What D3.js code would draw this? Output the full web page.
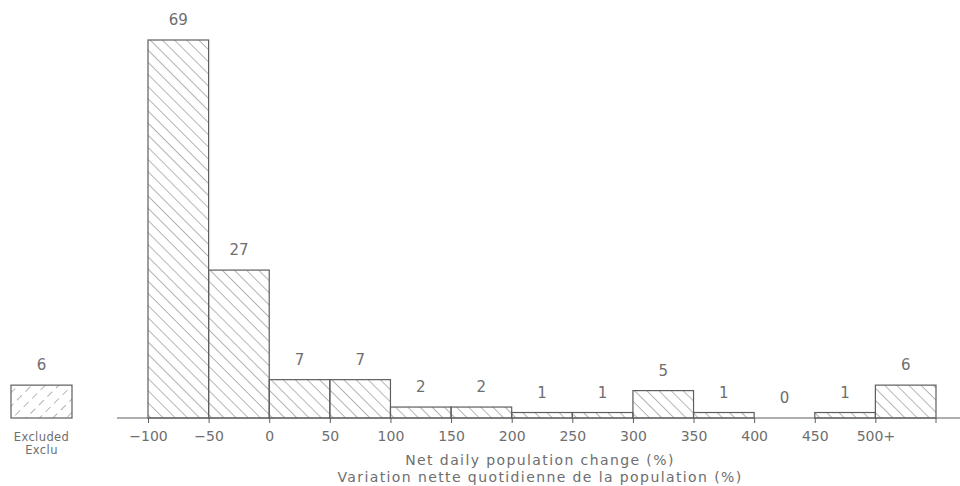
<!DOCTYPE html>
<html><head><meta charset="utf-8">
<script src="https://cdn.jsdelivr.net/npm/d3@7"></script>
<style>body{margin:0;background:#fff}svg{display:block}text{font-family:"DejaVu Sans",sans-serif;fill:#6e6e6e}</style>
</head><body><svg id="c" width="960" height="486"></svg>
<script>
const binStarts = [-100,-50,0,50,100,150,200,250,300,350,400,450,500];
const counts = [69,27,7,7,2,2,1,1,5,1,0,1,6];
const tickValues = [-100,-50,0,50,100,150,200,250,300,350,400,450,500];
const tickLabels = ["\u2212100","\u221250","0","50","100","150","200","250","300","350","400","450","500+"];
const excludedCount = 6;
const excludedLabels = ["Excluded","Exclu"];
const titleLines = ["Net daily population change (%)","Variation nette quotidienne de la population (%)"];
const binWidth = 50;

const svg = d3.select("#c");
const x = d3.scaleLinear().domain([-100,550]).range([148,936]);
const y = d3.scaleLinear().domain([0,69]).range([418,40]);
const stroke = "#5e5e5e";
const hatch = "#6a6a6a";

const defs = svg.append("defs");
defs.append("pattern").attr("id","hb").attr("patternUnits","userSpaceOnUse")
  .attr("width",8.6).attr("height",20).attr("patternTransform","rotate(-45)")
  .append("line").attr("x1",0).attr("y1",-5).attr("x2",0).attr("y2",25)
  .attr("stroke",hatch).attr("stroke-width",1);
defs.append("pattern").attr("id","hf").attr("patternUnits","userSpaceOnUse")
  .attr("width",9.5).attr("height",12).attr("patternTransform","rotate(45)")
  .append("line").attr("x1",0).attr("y1",0).attr("x2",0).attr("y2",12)
  .attr("stroke",hatch).attr("stroke-width",1).attr("stroke-dasharray","7 5");

// axis
const axis = d3.axisBottom(x).tickValues(tickValues).tickSize(5).tickPadding(8)
  .tickFormat((d,i)=>tickLabels[i]);
const gA = svg.append("g").attr("transform","translate(0,418)").call(axis);
gA.select(".domain").remove();
gA.selectAll(".tick line").attr("stroke",stroke);
gA.selectAll(".tick text").attr("font-size",14).style("fill","#6e6e6e").attr("font-family","DejaVu Sans");
svg.append("line").attr("x1",117).attr("x2",960).attr("y1",418).attr("y2",418).attr("stroke",stroke).attr("stroke-width",1.2);
svg.append("line").attr("x1",x(550)).attr("x2",x(550)).attr("y1",418).attr("y2",423).attr("stroke",stroke);

// bars
svg.append("g").selectAll("rect").data(counts).join("rect")
  .attr("x",(d,i)=>x(binStarts[i])).attr("width",(d,i)=>x(binStarts[i]+binWidth)-x(binStarts[i]))
  .attr("y",d=>y(d)).attr("height",d=>y(0)-y(d))
  .attr("fill","url(#hb)").attr("stroke",d=>d>0?stroke:"none").attr("stroke-width",1.2);

svg.append("g").selectAll("text").data(counts).join("text")
  .attr("x",(d,i)=>x(binStarts[i]+binWidth/2)).attr("y",d=>y(d)-15)
  .attr("text-anchor","middle").attr("font-size",15).text(d=>d);

// excluded box
const exX = d3.scaleLinear().domain([0,1]).range([11,72]);
svg.append("rect").attr("x",exX(0)).attr("width",exX(1)-exX(0))
  .attr("y",y(excludedCount)).attr("height",y(0)-y(excludedCount))
  .attr("fill","url(#hf)").attr("stroke",stroke).attr("stroke-width",1.2);
svg.append("text").attr("x",exX(0.5)).attr("y",y(excludedCount)-15)
  .attr("text-anchor","middle").attr("font-size",15).text(excludedCount);
svg.append("g").selectAll("text").data(excludedLabels).join("text")
  .attr("x",exX(0.5)).attr("y",(d,i)=>441+i*13).attr("text-anchor","middle")
  .attr("font-size",11.5).attr("letter-spacing",0.4).text(d=>d);

svg.append("g").selectAll("text").data(titleLines).join("text")
  .attr("x",540).attr("y",(d,i)=>465+i*16.5).attr("text-anchor","middle")
  .attr("font-size",14).attr("letter-spacing",1.4).text(d=>d);
</script></body></html>
